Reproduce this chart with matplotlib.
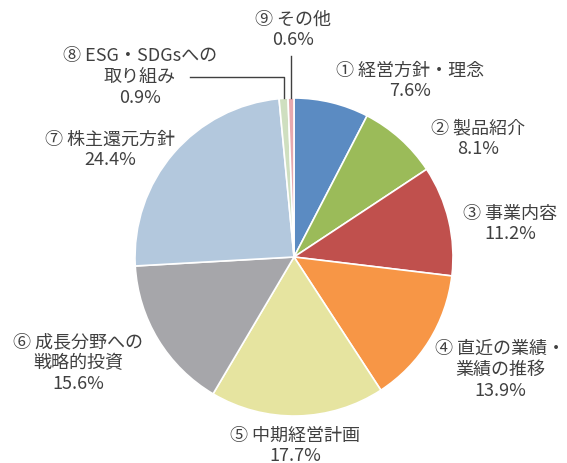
import matplotlib.pyplot as plt
import numpy as np

plt.rcParams['font.family'] = ['Noto Sans CJK JP', 'DejaVu Sans']

labels = ['① 経営方針・理念', '② 製品紹介', '③ 事業内容', '④ 直近の業績・\n業績の推移',
          '⑤ 中期経営計画', '⑥ 成長分野への\n戦略的投資', '⑦ 株主還元方針',
          '⑧ ESG・SDGsへの\n取り組み', '⑨ その他']
values = [7.6, 8.1, 11.2, 13.9, 17.7, 15.6, 24.4, 0.9, 0.6]
colors = ['#5B8BC2', '#9BBB59', '#C0504D', '#F79646', '#E6E4A0',
          '#A6A6AA', '#B3C8DD', '#CFDFC0', '#E6A8AE']

# label block centres in pixel coordinates (figure is 567x464)
label_pos = [(410, 383), (478, 325), (510, 240), (500, 94), (295, 18),
             (78, 101), (110, 314), (140, 387), (293, 434)]

fig = plt.figure(figsize=(5.67, 4.64), dpi=100)
ax = fig.add_axes([0, 0, 1, 1])

cx, cy, r = 294, 206, 159
ax.pie(values, colors=colors, startangle=90, counterclock=False,
       center=(cx, cy), radius=r, frame=True,
       wedgeprops=dict(edgecolor='white', linewidth=1.2))
ax.set_xlim(0, 567)
ax.set_ylim(0, 464)
ax.set_aspect('equal')
ax.axis('off')

for lab, v, (x, y) in zip(labels, values, label_pos):
    ax.text(x, y, f'{lab}\n{v}%', ha='center', va='center', fontsize=13,
            color='#404040', linespacing=1.2)

# leader lines for the two small slices
cum = np.cumsum(values) - np.array(values) / 2
ang = np.deg2rad(90 - cum / 100 * 360)
x8 = cx + r * np.cos(ang[7])
x9 = cx + r * np.cos(ang[8])
ax.plot([190, x8, x8], [386, 386, cy + r * np.sin(ang[7])], color='#404040', lw=1)
ax.plot([x9, x9], [407, cy + r * np.sin(ang[8])], color='#404040', lw=1)

fig.savefig('out.png', dpi=100)
